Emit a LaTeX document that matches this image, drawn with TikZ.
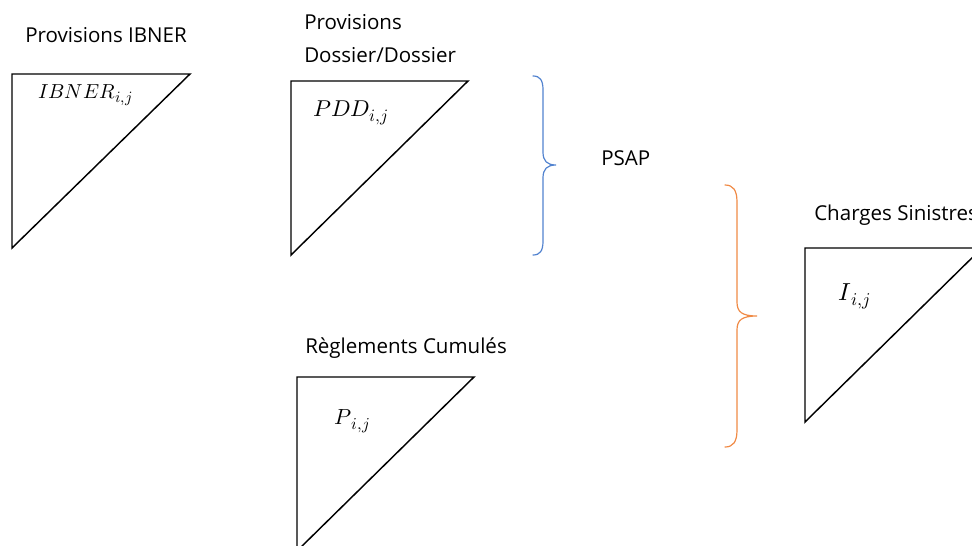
\documentclass[tikz,border=0pt]{standalone}
\usepackage{fontspec}
\setmainfont{Open Sans}
\usepackage{unicode-math}
\setmathfont{Latin Modern Math}
% cell label: italic symbol with a roomy i,j subscript
% #1 symbol size (pt), #2 subscript size (pt), #3 symbol
\newcommand\cellsym[3]{%
  {\fontsize{#1}{#1}\selectfont$#3$\kern0.3pt%
   \raisebox{-0.24em}{\fontsize{#2}{#2}\selectfont$i{,}j$}}}
\begin{document}
\begin{tikzpicture}[x=0.75pt,y=-0.75pt,
  tri/.style={draw=black,line width=1.1pt,line join=miter},
  lbl/.style={anchor=base west,inner sep=0pt,font=\fontsize{15.4}{18}\selectfont},
  mth/.style={anchor=base west,inner sep=0pt},
  brc/.style={line width=0.9pt,line cap=round}]
\definecolor{braceblue}{HTML}{5283CF}
\definecolor{braceorange}{HTML}{F08A45}
\useasboundingbox (0,0) rectangle (972,546);
\clip (0,0) rectangle (972,546);

% triangular development tables
\draw[tri] (12,74) -- (190,74) -- (12,248) -- cycle;
\draw[tri] (291,81) -- (468,81) -- (291,255) -- cycle;
\draw[tri] (297,377) -- (474,377) -- (297,551) -- cycle;
\draw[tri] (805,248) -- (982,248) -- (805,422) -- cycle;

% titles
\node[lbl] (tIBNER) at (25,42) {Provisions IBNER};
\node[lbl] (tPDD1) at (304,30) {Provisions};
\node[lbl] (tPDD2) at (304,62) {Dossier/Dossier};
\node[lbl] (tPSAP) at (601,165) {PSAP};
\node[lbl] (tCS) at (814,220) {Charges Sinistres};
\node[lbl] (tRC) at (305,353) {Règlements Cumulés};

% cell labels
\node[mth] (mIBNER) at (38,98) {\cellsym{15.2}{11.8}{IBNER}};
\node[mth] (mPDD) at (313,116) {\cellsym{17.2}{13}{PDD}};
\node[mth] (mP) at (334,424) {\cellsym{16.4}{12.5}{P}};
\node[mth] (mI) at (838,300) {\cellsym{18.5}{13.5}{I}};

% braces
\draw[brc,braceblue] (533,76) .. controls (540,76) and (543,80) .. (543,90)
  -- (543,152) .. controls (543,161) and (547,165) .. (556,165)
  .. controls (547,165) and (543,169) .. (543,178)
  -- (543,241) .. controls (543,251) and (540,255) .. (533,255);
\draw[brc,braceorange] (725,185) .. controls (733,185) and (737,190) .. (737,202)
  -- (737,302) .. controls (737,312) and (742,316) .. (757,316)
  .. controls (742,316) and (737,320) .. (737,330)
  -- (737,430) .. controls (737,442) and (733,447) .. (725,447);
\end{tikzpicture}
\end{document}
